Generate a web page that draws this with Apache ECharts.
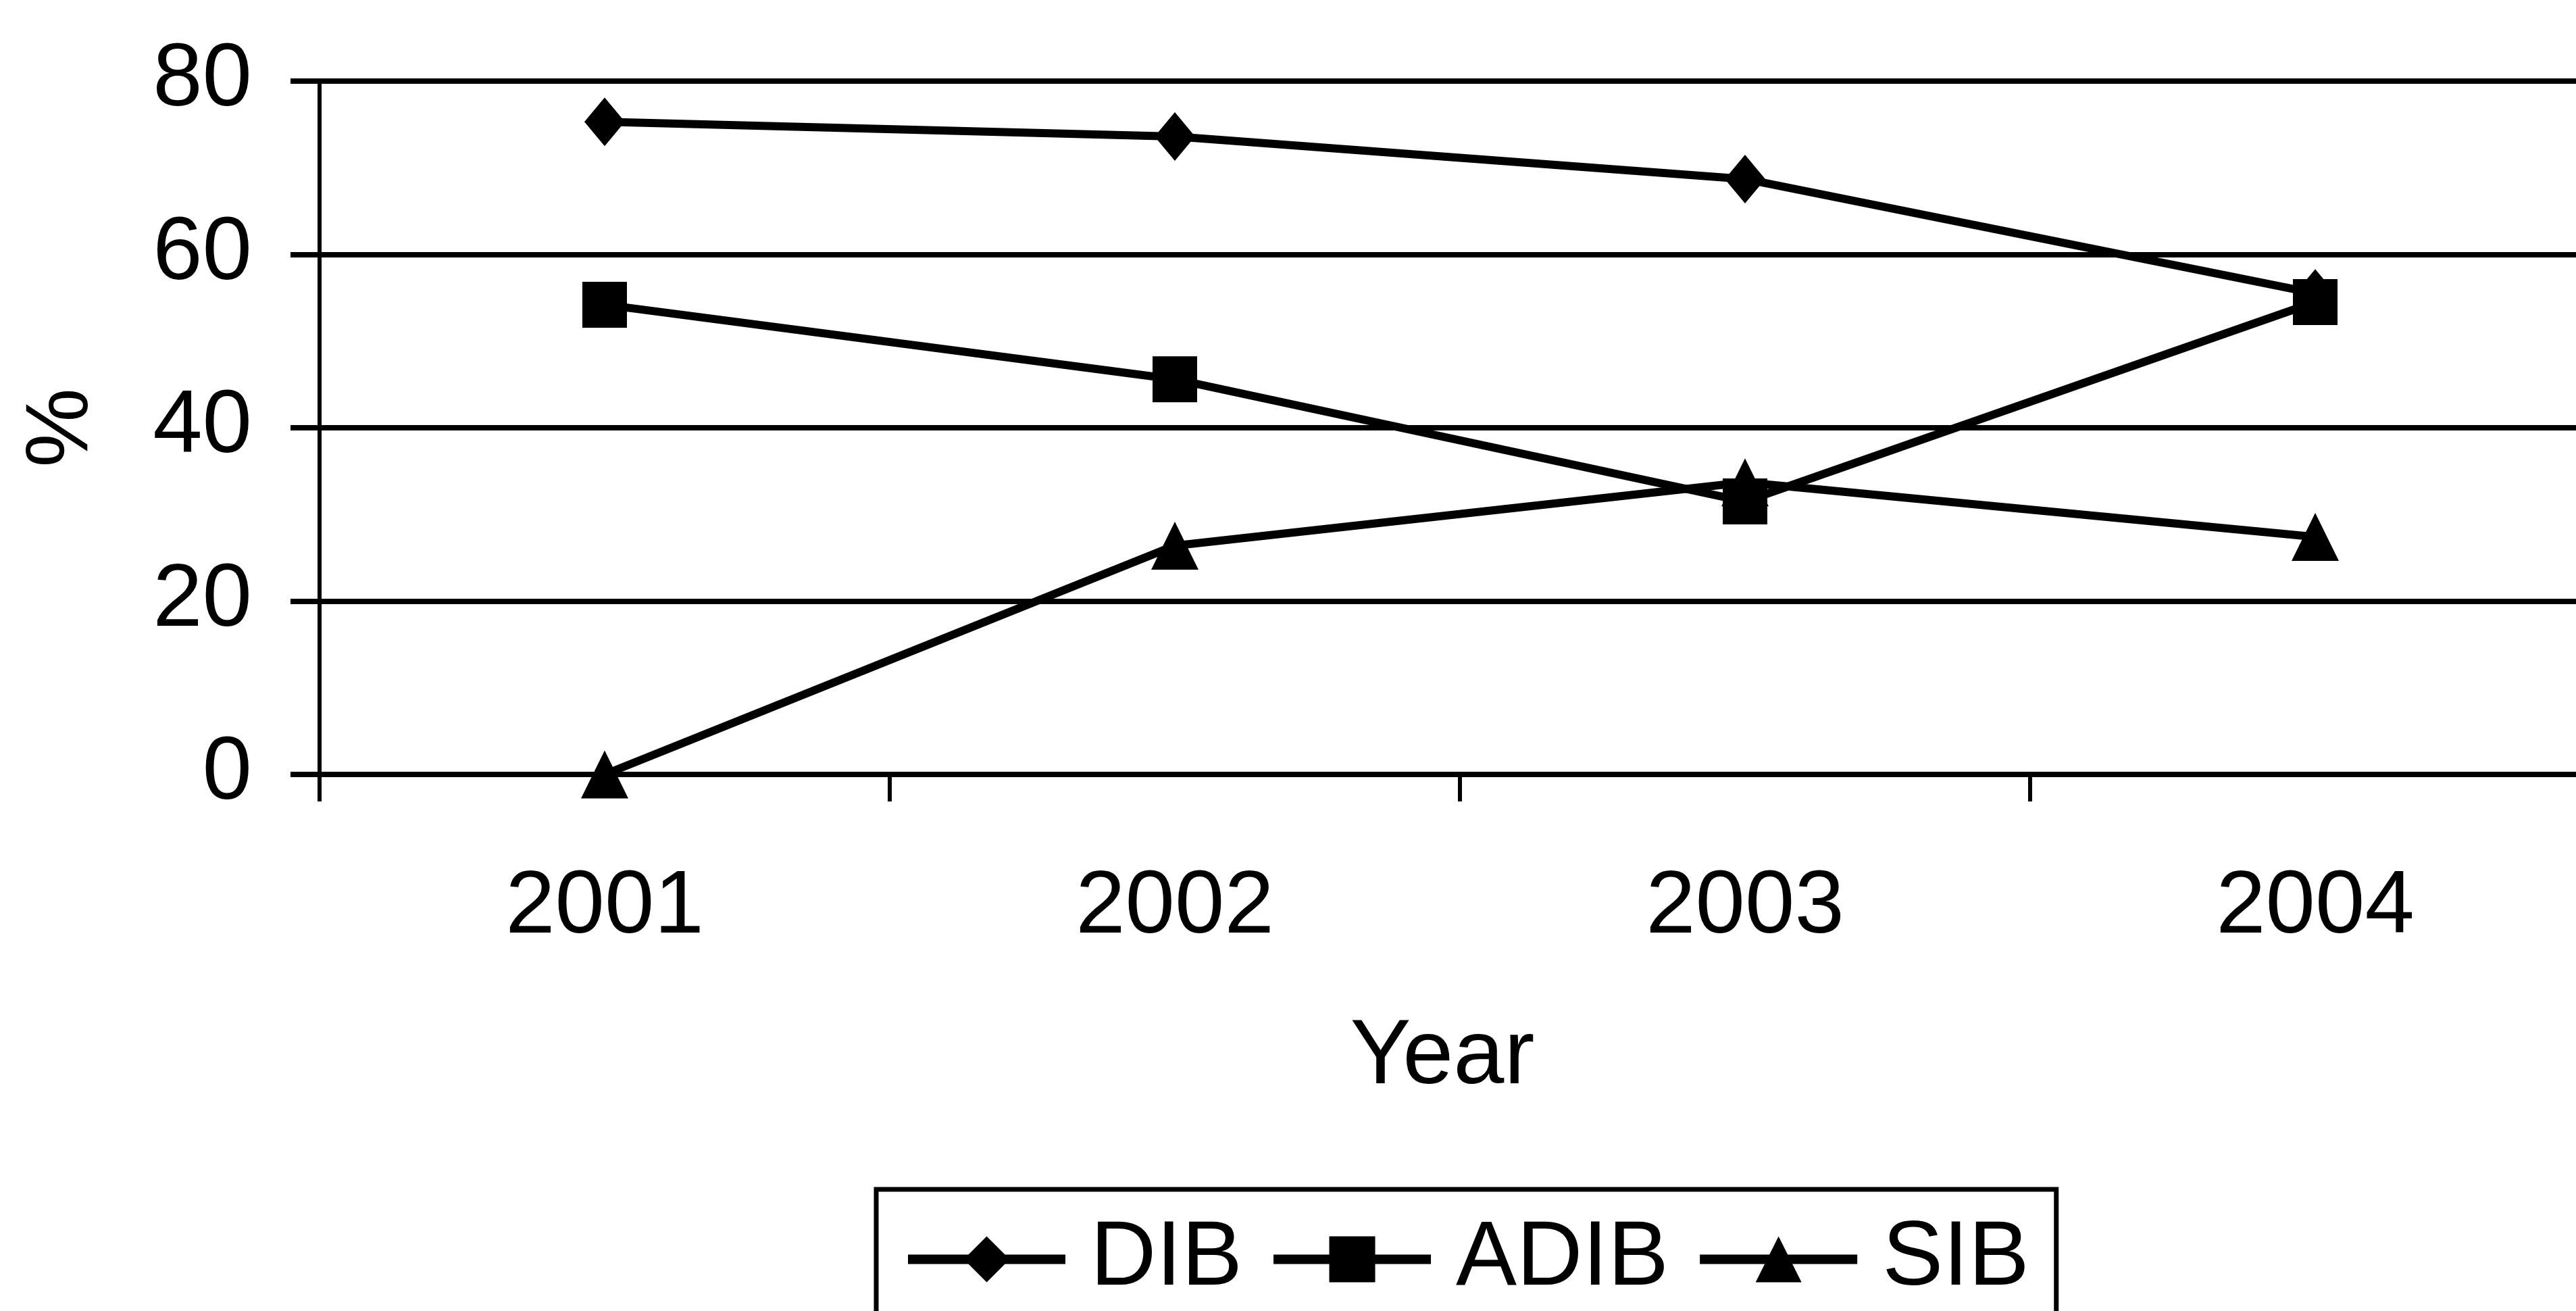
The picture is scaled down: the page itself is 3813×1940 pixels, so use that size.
<!DOCTYPE html>
<html>
<head>
<meta charset="utf-8">
<script src="https://cdn.jsdelivr.net/npm/echarts@6/dist/echarts.min.js"></script>
<style>
html,body{margin:0;padding:0;background:#fff;overflow:hidden;width:3813px;height:1940px;}
#chart{width:3900px;height:1940px;}
</style>
</head>
<body>
<div id="chart"></div>
<script>
const years = ['2001', '2002', '2003', '2004'];
const dib = [75.3, 73.6, 68.7, 55.5];
const adib = [54.2, 45.6, 31.5, 54.5];
const sib = [0, 26.4, 33.7, 27.4];
const yTicks = [0, 20, 40, 60, 80];

const FONT = "'Liberation Sans', Arial, Helvetica, sans-serif";
const chart = echarts.init(document.getElementById('chart'));

function lineSeries(name, data, symbol, size) {
  return {
    name: name,
    type: 'line',
    data: data,
    symbol: symbol,
    symbolSize: size,
    showSymbol: true,
    lineStyle: { color: '#000', width: 12 },
    itemStyle: { color: '#000', borderWidth: 0 },
    emphasis: { disabled: true },
    animation: false
  };
}

chart.setOption({
  backgroundColor: '#fff',
  animation: false,
  textStyle: { fontFamily: FONT, color: '#000' },
  grid: { left: 473, top: 120, width: 3376, height: 1026, containLabel: false },
  xAxis: {
    type: 'category',
    data: years,
    boundaryGap: true,
    name: 'Year',
    nameLocation: 'middle',
    nameGap: 352,
    nameTextStyle: { fontFamily: FONT, fontSize: 135, color: '#000', padding: [0, 52, 0, 0] },
    axisLine: { show: true, lineStyle: { color: '#000', width: 8 } },
    axisTick: { show: true, alignWithLabel: false, length: 40, lineStyle: { color: '#000', width: 6 } },
    axisLabel: { fontFamily: FONT, fontSize: 132, color: '#000', margin: 132 },
    splitLine: { show: false }
  },
  yAxis: {
    type: 'value',
    min: yTicks[0],
    max: yTicks[yTicks.length - 1],
    interval: yTicks[1] - yTicks[0],
    name: '%',
    nameLocation: 'middle',
    nameRotate: 90,
    nameGap: 314,
    nameTextStyle: { fontFamily: FONT, fontSize: 132, color: '#000' },
    axisLine: { show: true, lineStyle: { color: '#000', width: 6 } },
    axisTick: { show: true, inside: false, length: 43, lineStyle: { color: '#000', width: 8 } },
    axisLabel: { fontFamily: FONT, fontSize: 132, color: '#000', margin: 100 },
    splitLine: { show: true, lineStyle: { color: '#000', width: 8 } }
  },
  legend: {
    left: 1297,
    top: 1760,
    orient: 'horizontal',
    itemWidth: 233,
    itemHeight: 85,
    itemGap: 39,
    padding: [36, 40, 80, 40],
    borderColor: '#000',
    borderWidth: 7,
    backgroundColor: '#fff',
    selectedMode: false,
    lineStyle: { width: 14 },
    textStyle: { fontFamily: FONT, fontSize: 135, color: '#000', padding: [0, 0, 0, 32] },
    data: ['DIB', 'ADIB', 'SIB']
  },
  series: [
    lineSeries('DIB', dib, 'diamond', [60, 72]),
    lineSeries('ADIB', adib, 'rect', [66, 68]),
    lineSeries('SIB', sib, 'triangle', [70, 71])
  ]
});
</script>
</body>
</html>
